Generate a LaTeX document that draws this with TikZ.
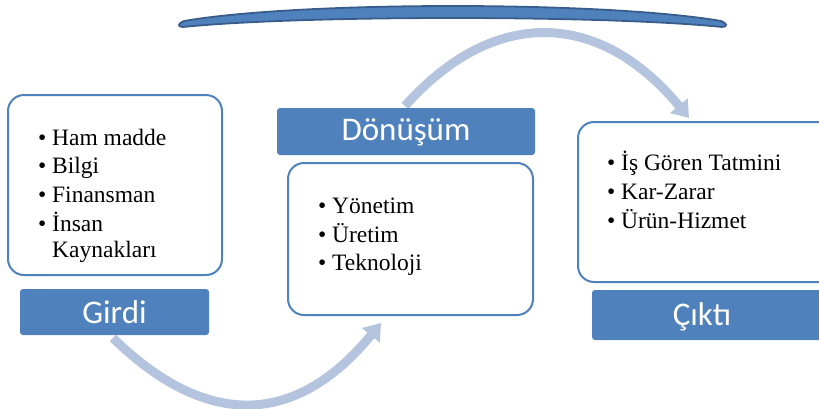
\documentclass[tikz,border=0pt]{standalone}
\usepackage{fontspec}
\setmainfont{Liberation Serif}
\newfontfamily\labfont{Carlito}
\usetikzlibrary{arrows.meta}
\definecolor{boxblue}{HTML}{4F81BD}
\definecolor{darkblue}{HTML}{385D8A}
\definecolor{arrowblue}{HTML}{B4C3DE}
\tikzset{
  itembox/.style={draw=boxblue, line width=2pt, rounded corners=16pt},
  labelbox/.style={fill=boxblue, rounded corners=3pt},
  labeltext/.style={text=white, font=\labfont\fontsize{33}{36}\selectfont, inner sep=0pt},
  itemline/.style={anchor=base west, inner sep=0pt, font=\fontsize{23.5}{26}\selectfont},
  flowarrow/.style={draw=arrowblue, line width=9pt, -{Triangle[width=22pt,length=16pt]}},
}
\newcommand{\bl}{\makebox[14pt][l]{\textbullet}}
\newcommand{\nb}{\hspace*{14pt}}
\begin{document}
\begin{tikzpicture}[x=1pt,y=-1pt]
\useasboundingbox (0,0) rectangle (819,408);
\clip (0,0) rectangle (819,408);

% top bar
\path[fill=boxblue, draw=darkblue, line width=1.8pt]
  (184,21) .. controls (300,1) and (605,1) .. (721,21)
  .. controls (727,23) and (728,27) .. (722,27)
  .. controls (605,15) and (300,15) .. (183,27)
  .. controls (177,27) and (178,23) .. (184,21) -- cycle;

% arrow coordinates
\coordinate (a1s) at (113,338);
\coordinate (a1e) at (381,323);
\coordinate (a2s) at (405,106);
\coordinate (a2e) at (689,118);
\draw[flowarrow] (a1s) .. controls (205,428) and (295,428) .. (a1e);
\draw[flowarrow] (a2s) .. controls (492,8) and (598,8) .. (a2e);

% boxes
\draw[itembox, fill=white] (8,95) rectangle (222,275);
\draw[itembox, fill=white] (288,163) rectangle (533,315);
\draw[itembox, fill=white] (578,122) rectangle (840,282);

\path[labelbox] (20,289) rectangle (209,335);
\path[labelbox] (277,108) rectangle (535,155);
\path[labelbox] (592,290) rectangle (840,340);

\node[labeltext] (girdi) at (114.5,312) {Girdi};
\node[labeltext] (donusum) at (406,132) {Dönüşüm};
\node[labeltext] (cikti) at (702,317) {Çıktı};

% Girdi items
\node[itemline] (g1) at (38,145) {\bl Ham madde};
\node[itemline] (g2) at (38,173) {\bl Bilgi};
\node[itemline] (g3) at (38,202) {\bl Finansman};
\node[itemline] (g4) at (38,231) {\bl İnsan};
\node[itemline] (g5) at (38,257) {\nb Kaynakları};

% Dönüşüm items
\node[itemline] (d1) at (318,213) {\bl Yönetim};
\node[itemline] (d2) at (318,242) {\bl Üretim};
\node[itemline] (d3) at (318,270) {\bl Teknoloji};

% Çıktı items
\node[itemline] (c1) at (607,170) {\bl İş Gören Tatmini};
\node[itemline] (c2) at (607,199) {\bl Kar-Zarar};
\node[itemline] (c3) at (607,228) {\bl Ürün-Hizmet};
\end{tikzpicture}
\end{document}
